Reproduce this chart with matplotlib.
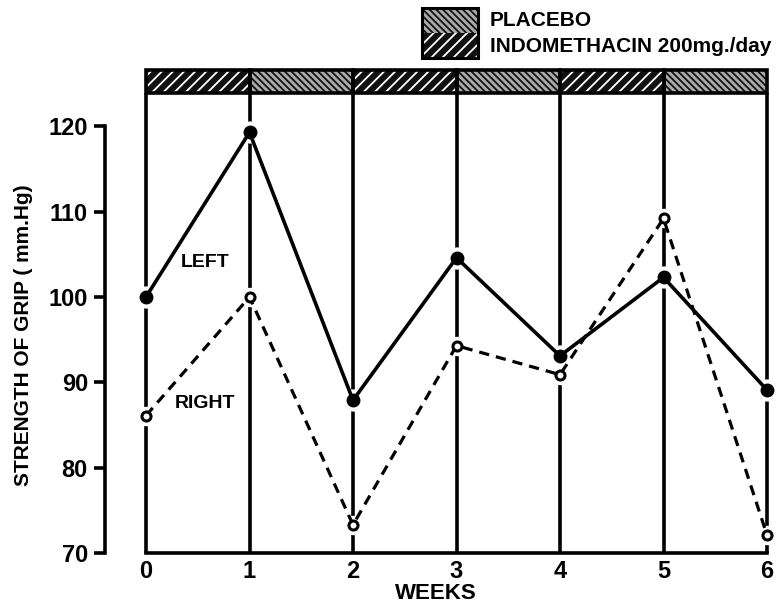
import matplotlib
matplotlib.use("Agg")
import matplotlib.pyplot as plt
from matplotlib.patches import Rectangle

weeks = [0, 1, 2, 3, 4, 5, 6]
left_grip = [100.0, 119.3, 87.9, 104.6, 93.1, 102.3, 89.1]
right_grip = [86.1, 100.0, 73.3, 94.3, 90.9, 109.2, 72.1]
y_ticks = [70, 80, 90, 100, 110, 120]
treatments = ["INDOMETHACIN", "PLACEBO", "INDOMETHACIN", "PLACEBO", "INDOMETHACIN", "PLACEBO"]
legend_labels = ["PLACEBO", "INDOMETHACIN 200mg./day"]

FONT = ["Liberation Sans", "DejaVu Sans"]
plt.rcParams['font.family'] = FONT
plt.rcParams['hatch.linewidth'] = 1.3

fig = plt.figure(figsize=(7.76, 6.04), dpi=100)
ax = fig.add_axes([104.6 / 776, 51 / 604, (767 - 104.6) / 776, 483 / 604])
ax.set_xlim(-0.4, 6.0)
ax.set_ylim(70, 126.6)

band_lo, band_hi = 123.9, 126.6

# vertical week lines
for w in weeks:
    ax.plot([w, w], [70, band_lo], color='black', lw=2.6, zorder=1, clip_on=False,
            solid_capstyle='butt')

# white halos around markers (gap in vertical lines)
ax.plot(weeks, left_grip, 'o', ms=15, color='white', zorder=2, clip_on=False)
ax.plot(weeks, right_grip, 'o', ms=13, color='white', zorder=2, clip_on=False)

ax.plot(weeks, left_grip, '-', color='black', lw=2.6, zorder=3, clip_on=False)
ax.plot(weeks, right_grip, '--', color='black', lw=2.3, dashes=(3.2, 2.2), zorder=3, clip_on=False)
ax.plot(weeks, left_grip, 'o', ms=9, color='black', zorder=4, clip_on=False)
ax.plot(weeks, right_grip, 'o', ms=6.5, mfc='white', mec='black', mew=2.2, zorder=4, clip_on=False)

# treatment band
for i, t in enumerate(treatments):
    if t == "PLACEBO":
        r = Rectangle((i, band_lo), 1, band_hi - band_lo, facecolor='#aaaaaa', edgecolor='#111111',
                      hatch='\\\\\\\\\\', lw=0, clip_on=False, zorder=2)
    else:
        r = Rectangle((i, band_lo), 1, band_hi - band_lo, facecolor='#111111', edgecolor='white',
                      hatch='///', lw=0, clip_on=False, zorder=2)
    ax.add_patch(r)
    ax.add_patch(Rectangle((i, band_lo), 1, band_hi - band_lo, fill=False, edgecolor='black',
                           lw=2.6, clip_on=False, zorder=3))

ax.text(0.57, 104.0, "LEFT", fontsize=14, fontweight='bold', ha='center', va='center')
ax.text(0.57, 87.5, "RIGHT", fontsize=14, fontweight='bold', ha='center', va='center')

for s in ['top', 'right']:
    ax.spines[s].set_visible(False)
ax.spines['left'].set_bounds(70, 120)
ax.spines['bottom'].set_bounds(0, 6)
ax.spines['left'].set_linewidth(2.6)
ax.spines['bottom'].set_linewidth(2.6)

ax.set_yticks(y_ticks)
ax.set_yticklabels([str(v) for v in y_ticks], fontsize=17, fontweight='bold')
ax.tick_params(axis='y', length=8, width=2.6, pad=4)
ax.set_xticks(weeks)
ax.set_xticklabels([str(w) for w in weeks], fontsize=17, fontweight='bold')
ax.tick_params(axis='x', length=0, pad=5)
ax.set_xlabel("WEEKS", fontsize=16, fontweight='bold', labelpad=0)
ax.set_ylabel("STRENGTH OF GRIP ( mm.Hg)", fontsize=15, fontweight='bold')
ax.yaxis.set_label_coords(-0.108, 0.45)

# legend at top
W, H = 776, 604
def fx(px): return px / W
def fy(py): return 1 - py / H
lx0, lx1 = 422, 478
fig.patches.append(Rectangle((fx(lx0), fy(33)), fx(lx1 - lx0), (33 - 8) / H, transform=fig.transFigure,
                             facecolor='#aaaaaa', edgecolor='#111111', hatch='\\\\\\\\\\', lw=0))
fig.patches.append(Rectangle((fx(lx0), fy(58)), fx(lx1 - lx0), (58 - 33) / H, transform=fig.transFigure,
                             facecolor='#111111', edgecolor='white', hatch='///', lw=0))
fig.patches.append(Rectangle((fx(lx0), fy(58)), fx(lx1 - lx0), 50 / H, transform=fig.transFigure,
                             fill=False, edgecolor='black', lw=2.2))
fig.text(fx(490), fy(21), legend_labels[0], fontsize=15, fontweight='bold', ha='left', va='center')
fig.text(fx(490), fy(47), legend_labels[1], fontsize=15, fontweight='bold', ha='left', va='center')

fig.savefig("out.png", dpi=100)
